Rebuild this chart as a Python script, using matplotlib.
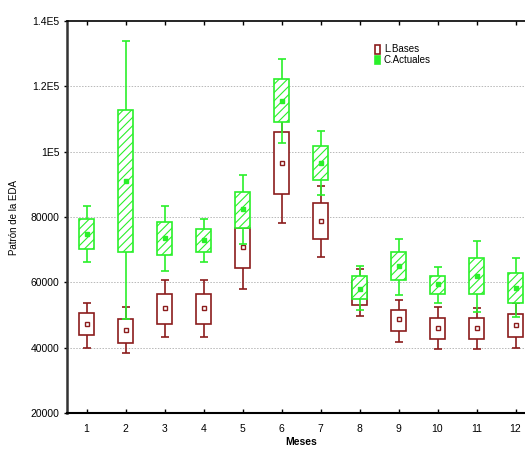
import matplotlib
matplotlib.use("Agg")
import matplotlib.pyplot as plt
from matplotlib.patches import Patch
import numpy as np

# ---- data (mean, box low/high, whisker low/high) ----
months = [1, 2, 3, 4, 5, 6, 7, 8, 9, 10, 11, 12]

bases_mean  = [47350, 45300, 52240, 52240, 70780, 96560, 78730, 56700, 48670, 46120, 46120, 46940]
bases_box_lo = [43780, 41540, 47350, 47350, 64260, 87090, 73330, 52950, 45100, 42760, 42760, 43270]
bases_box_hi = [50510, 48670, 56520, 56520, 76490, 105940, 84330, 60450, 51420, 49180, 49180, 50200]
bases_wh_lo = [40010, 38280, 43270, 43270, 57840, 78020, 67830, 49690, 41840, 39700, 39700, 40010]
bases_wh_hi = [53770, 52440, 60590, 60690, 83700, 115000, 89430, 64170, 54580, 52440, 52240, 53800]

act_mean  = [74650, 90960, 73430, 72820, 82300, 115410, 96560, 58040, 64970, 59370, 61920, 58350]
act_box_lo = [70070, 69360, 68230, 69250, 76490, 109100, 91260, 54780, 60690, 56520, 56520, 53770]
act_box_hi = [79240, 112760, 78420, 76180, 87600, 122340, 101660, 61920, 69250, 61920, 67320, 62940]
act_wh_lo = [66200, 48670, 63440, 66200, 71600, 102680, 86680, 51420, 56110, 53770, 50920, 49490]
act_wh_hi = [83520, 133760, 83520, 79440, 93000, 128360, 106450, 64970, 73330, 64670, 72520, 67420]

yticks = [20000, 40000, 60000, 80000, 100000, 120000, 140000]
ytick_labels = ["20000", "40000", "60000", "80000", "1E5", "1.2E5", "1.4E5"]

RED = "#8b1c1c"
GREEN = "#2af02a"

plt.rcParams['font.family'] = ['Liberation Sans', 'DejaVu Sans']
plt.rcParams['hatch.linewidth'] = 0.8

fig = plt.figure(figsize=(5.25, 4.5), dpi=100)
ax = fig.add_axes([67 / 525, 37 / 450, 468 / 525, 392 / 450])


def draw_series(x, mean, blo, bhi, wlo, whi, color, hatch, filled, z):
    mean = np.array(mean)
    blo = np.array(blo)
    bhi = np.array(bhi)
    # whiskers with caps
    ax.errorbar(x, mean, yerr=[mean - np.array(wlo), np.array(whi) - mean],
                fmt='none', ecolor=color, elinewidth=1.2, capsize=3,
                capthick=1.2, zorder=z)
    # boxes
    ax.bar(x, bhi - blo, bottom=blo, width=0.38, color='white',
           edgecolor=color, linewidth=1.2, hatch=hatch, zorder=z + 1)
    # mean markers
    if filled:
        ax.plot(x, mean, 's', color=color, markersize=3.2, zorder=z + 2)
    else:
        ax.plot(x, mean, 's', markerfacecolor='white', markeredgecolor=color,
                markeredgewidth=1.0, markersize=3.0, zorder=z + 2)


draw_series(months, bases_mean, bases_box_lo, bases_box_hi, bases_wh_lo, bases_wh_hi,
            RED, None, False, 2)
draw_series(months, act_mean, act_box_lo, act_box_hi, act_wh_lo, act_wh_hi,
            GREEN, '////', True, 6)

ax.set_xlim(0.5, 12.5)
ax.set_ylim(20000, 140000)
ax.set_xticks(months)
ax.set_xticklabels([str(m) for m in months], fontsize=7.5)
ax.set_yticks(yticks)
ax.set_yticklabels(ytick_labels, fontsize=7.5)
ax.tick_params(axis='x', direction='in', top=True, length=3, width=1, pad=8)
ax.tick_params(axis='y', direction='out', length=2, width=1)

# dotted grid at inner ticks
for v in yticks[1:-1]:
    ax.axhline(v, color='#b8b8b8', linestyle=(0, (1.5, 1.5)), linewidth=0.7, zorder=0)

ax.spines['left'].set_linewidth(1.8)
ax.spines['left'].set_color('#333333')
ax.spines['bottom'].set_linewidth(1.5)
ax.spines['top'].set_linewidth(1.2)
ax.spines['right'].set_visible(False)

ax.set_xlabel('Meses', fontsize=7.5, fontweight='bold', labelpad=2)
ax.set_ylabel('Patrón de la EDA', fontsize=7, labelpad=8)

handles = [Patch(facecolor='white', edgecolor=RED, linewidth=1.2),
           Patch(facecolor=GREEN, edgecolor=GREEN, linewidth=1.2)]
ax.legend(handles, ['L.Bases', 'C.Actuales'], loc='upper left',
          bbox_to_anchor=(0.65, 0.95), frameon=False, fontsize=7,
          handlelength=0.5, handleheight=1.0, handletextpad=0.4,
          labelspacing=0.1, borderaxespad=0)

fig.savefig('out.png', dpi=100)
